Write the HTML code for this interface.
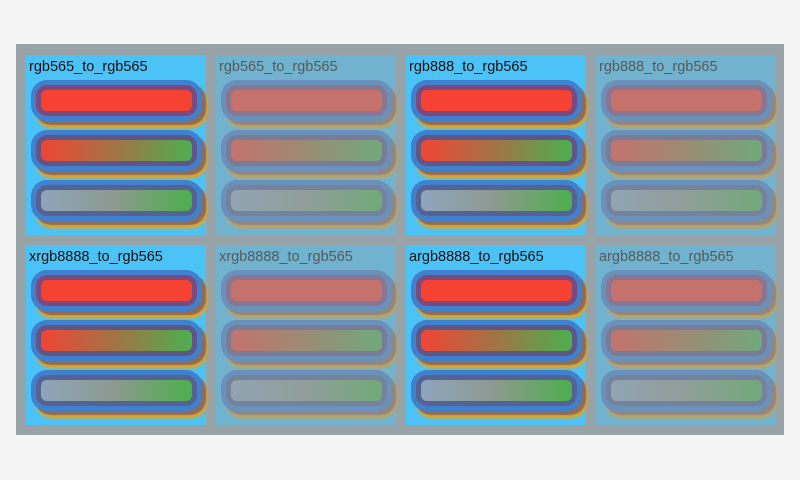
<!DOCTYPE html>
<html><head><style>
body{margin:0;width:800px;height:480px;background:#f4f4f4;position:relative;overflow:hidden;font-family:"Liberation Sans","DejaVu Sans",sans-serif}
#c{position:absolute;left:16px;top:44px;width:768px;height:391px;background:#97a3a7}
.cell{position:absolute;width:180px;height:180px;background:#4cc3f6}
.f{opacity:.5}
.t{position:absolute;left:3px;top:4px;font-size:14.5px;color:#111}
.w{position:absolute;left:5px;width:171px;height:41px;border-radius:16px;background:#3f80cf;box-shadow:4px 4px 1px rgba(120,100,110,.85),5px 7px 3px #f8a000}
.w .b{position:absolute;left:5px;top:5px;right:5px;bottom:5px;border-radius:11px;background:#7a4a7e}
.w .i{position:absolute;left:5px;top:5px;right:5px;bottom:5px;border-radius:6px}
.r1{top:25px}.r2{top:75px}.r3{top:125px}
.r1 .i{background:#f64233}
.r2 .b{background:#5f5685}
.r2 .i{background:linear-gradient(90deg,#f04535,#a07545 50%,#4caf50)}
.r3 .b{background:#546392}
.r3 .i{background:linear-gradient(90deg,#8fa4bd,#8c9a8e 50%,#4caf4c)}
</style></head><body>
<div id="c">
<div class="cell" style="left:10px;top:11px"><div class="t">rgb565_to_rgb565</div><div class="w r1"><div class="b"><div class="i"></div></div></div><div class="w r2"><div class="b"><div class="i"></div></div></div><div class="w r3"><div class="b"><div class="i"></div></div></div></div>
<div class="cell f" style="left:200px;top:11px"><div class="t">rgb565_to_rgb565</div><div class="w r1"><div class="b"><div class="i"></div></div></div><div class="w r2"><div class="b"><div class="i"></div></div></div><div class="w r3"><div class="b"><div class="i"></div></div></div></div>
<div class="cell" style="left:390px;top:11px"><div class="t">rgb888_to_rgb565</div><div class="w r1"><div class="b"><div class="i"></div></div></div><div class="w r2"><div class="b"><div class="i"></div></div></div><div class="w r3"><div class="b"><div class="i"></div></div></div></div>
<div class="cell f" style="left:580px;top:11px"><div class="t">rgb888_to_rgb565</div><div class="w r1"><div class="b"><div class="i"></div></div></div><div class="w r2"><div class="b"><div class="i"></div></div></div><div class="w r3"><div class="b"><div class="i"></div></div></div></div>
<div class="cell" style="left:10px;top:201px"><div class="t">xrgb8888_to_rgb565</div><div class="w r1"><div class="b"><div class="i"></div></div></div><div class="w r2"><div class="b"><div class="i"></div></div></div><div class="w r3"><div class="b"><div class="i"></div></div></div></div>
<div class="cell f" style="left:200px;top:201px"><div class="t">xrgb8888_to_rgb565</div><div class="w r1"><div class="b"><div class="i"></div></div></div><div class="w r2"><div class="b"><div class="i"></div></div></div><div class="w r3"><div class="b"><div class="i"></div></div></div></div>
<div class="cell" style="left:390px;top:201px"><div class="t">argb8888_to_rgb565</div><div class="w r1"><div class="b"><div class="i"></div></div></div><div class="w r2"><div class="b"><div class="i"></div></div></div><div class="w r3"><div class="b"><div class="i"></div></div></div></div>
<div class="cell f" style="left:580px;top:201px"><div class="t">argb8888_to_rgb565</div><div class="w r1"><div class="b"><div class="i"></div></div></div><div class="w r2"><div class="b"><div class="i"></div></div></div><div class="w r3"><div class="b"><div class="i"></div></div></div></div>
</div>
</body></html>
